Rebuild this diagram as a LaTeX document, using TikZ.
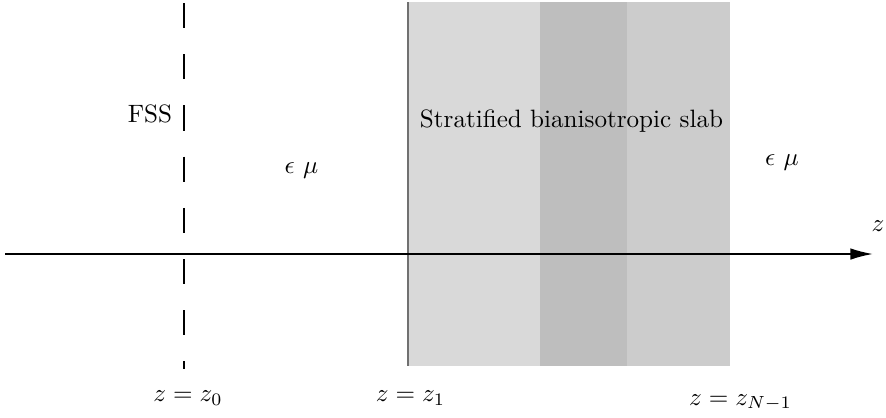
\documentclass[tikz,border=0pt]{standalone}
\usepackage{amsmath,amssymb}
\definecolor{slablight}{RGB}{217,217,217}
\definecolor{slabdark}{RGB}{190,190,190}
\definecolor{slabmid}{RGB}{204,204,204}
\definecolor{slabedge}{RGB}{112,112,112}
\usetikzlibrary{arrows.meta,positioning}

\begin{document}
\begin{tikzpicture}[
    lbl/.style={anchor=base, inner sep=0pt},
    fssline/.style={line width=1pt, dash pattern=on 10pt off 10.4pt},
    zaxis/.style={line width=0.7pt, -{Latex[length=9pt,width=4.6pt]}}
  ]
  \useasboundingbox (0,0) rectangle (12.404,5.838);

  % Slab layers
  \fill[slablight] (5.712,0.714) rectangle (7.560,5.810);
  \fill[slabdark]  (7.560,0.714) rectangle (8.778,5.810);
  \fill[slabmid]   (8.778,0.714) rectangle (10.220,5.810);
  \coordinate (slabtop) at (5.712,5.810);
  \coordinate (slabbot) at (5.712,0.714);
  \draw[slabedge, line width=0.45pt] (slabtop) -- (slabbot);

  % FSS
  \coordinate (fsstop) at (2.576,5.796);
  \coordinate (fssbot) at (2.576,0.672);
  \draw[fssline] (fsstop) -- (fssbot);

  % z axis
  \coordinate (zstart) at (0.07,2.282);
  \coordinate (zend) at (12.222,2.282);
  \draw[zaxis] (zstart) -- (zend);

  % Labels
  \node[lbl] (fss) at (2.100,4.130) {FSS};
  \node[lbl] (slab) at (8.001,4.056) {Stratified bianisotropic slab};
  \node[lbl] (medl) at (4.221,3.416) {$\epsilon\ \mu$};
  \node[lbl] (medr) at (10.948,3.528) {$\epsilon\ \mu$};
  \node[lbl] (zlab) at (12.292,2.594) {$z$};
  \node[lbl] (zzero) at (2.632,0.217) {$z=z_0$};
  \node[lbl] (zone) at (5.747,0.217) {$z=z_1$};
  \node[lbl] (zlast) at (10.367,0.168) {$z=z_{N-1}$};
\end{tikzpicture}
\end{document}
